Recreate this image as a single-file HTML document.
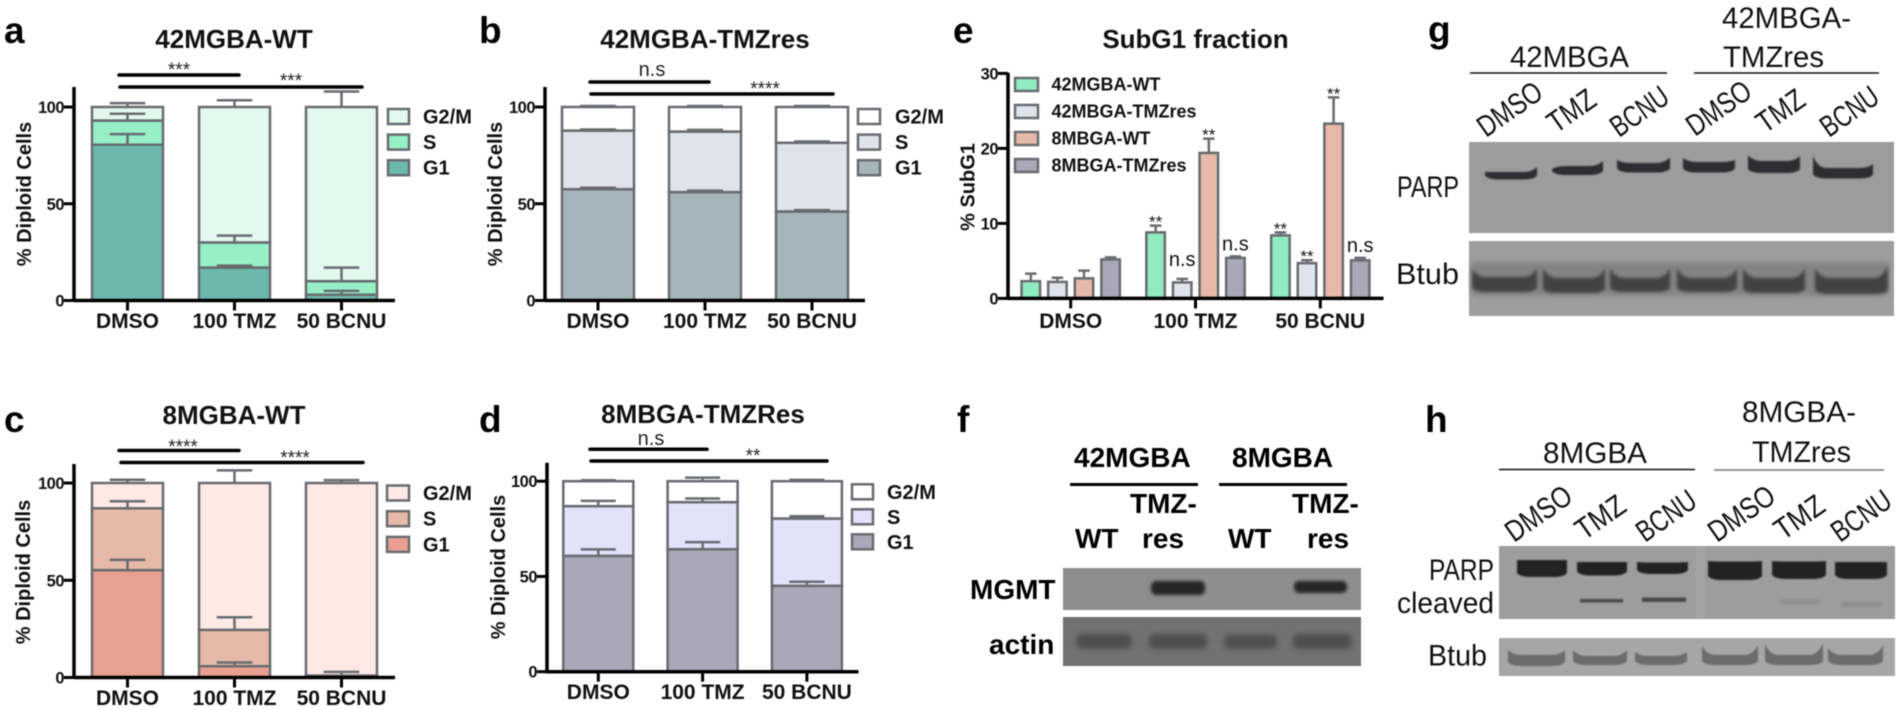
<!DOCTYPE html>
<html lang="en">
<head>
<meta charset="utf-8">
<title>Cell cycle and western blot figure</title>
<style>
html,body{margin:0;padding:0;background:#fff;width:1900px;height:710px;overflow:hidden}
svg{display:block;filter:blur(0.45px)}
text{font-family:"Liberation Sans",Arial,sans-serif;fill:#111}
.b{font-weight:700}
.letter{font-weight:700;font-size:37px;fill:#000}
.title{font-weight:700;font-size:26px;text-anchor:middle;fill:#111}
.sigbar{stroke:#000;stroke-width:3.5;stroke-linecap:round}
.star{font-size:19px;text-anchor:middle;fill:#222}
.ns{font-size:20px;text-anchor:middle;fill:#222}
.wb{font-size:30px;fill:#111}
.wbline{stroke:#111;stroke-width:1.6}
.fb{font-weight:700;font-size:28px;fill:#000}
</style>
</head>
<body>
<svg id="fig" xmlns="http://www.w3.org/2000/svg" width="1900" height="710" viewBox="0 0 1900 710">
<defs>
<filter id="blur05" x="-20%" y="-80%" width="140%" height="260%"><feGaussianBlur stdDeviation="0.9"/></filter>
<filter id="blur1" x="-20%" y="-60%" width="140%" height="220%"><feGaussianBlur stdDeviation="1.6"/></filter>
<filter id="blur2" x="-20%" y="-80%" width="140%" height="260%"><feGaussianBlur stdDeviation="3"/></filter>
</defs>

<!-- Panel letters -->
<text class="letter" x="4" y="43">a</text>
<text class="letter" x="479" y="43">b</text>
<text class="letter" x="4" y="432">c</text>
<text class="letter" x="479" y="432">d</text>
<text class="letter" x="953" y="43">e</text>
<text class="letter" x="957" y="432">f</text>
<text class="letter" x="1428" y="42">g</text>
<text class="letter" x="1425" y="432">h</text>

<!-- Chart titles -->
<text class="title" x="234" y="48">42MGBA-WT</text>
<text class="title" x="705" y="48">42MGBA-TMZres</text>
<text class="title" x="234" y="424">8MGBA-WT</text>
<text class="title" x="703" y="423">8MBGA-TMZRes</text>
<text class="title" x="1195.5" y="48">SubG1 fraction</text>

<!-- Significance brackets -->
<g>
<line class="sigbar" x1="119" y1="75" x2="239" y2="75"/><text class="star" x="179" y="76">***</text>
<line class="sigbar" x1="120" y1="87" x2="362" y2="87"/><text class="star" x="291" y="87">***</text>
</g>
<g>
<line class="sigbar" x1="590" y1="82" x2="709" y2="82"/><text class="ns" x="652" y="76">n.s</text>
<line class="sigbar" x1="591" y1="94" x2="833" y2="94"/><text class="star" x="765" y="95">****</text>
</g>
<g>
<line class="sigbar" x1="119" y1="450.5" x2="239" y2="450.5"/><text class="star" x="183" y="453">****</text>
<line class="sigbar" x1="121" y1="462.5" x2="363" y2="462.5"/><text class="star" x="295" y="464">****</text>
</g>
<g>
<line class="sigbar" x1="590" y1="449.3" x2="707" y2="449.3"/><text class="ns" x="651" y="445">n.s</text>
<line class="sigbar" x1="591" y1="461" x2="827" y2="461"/><text class="star" x="753" y="462">**</text>
</g>

<!-- Panel f -->
<g>
<text class="fb" x="1074" y="467">42MGBA</text>
<text class="fb" x="1232" y="467">8MGBA</text>
<line x1="1070" y1="484.5" x2="1198" y2="484.5" stroke="#000" stroke-width="3"/>
<line x1="1219" y1="484.5" x2="1347" y2="484.5" stroke="#000" stroke-width="3"/>
<text class="fb" x="1130" y="513">TMZ-</text>
<text class="fb" x="1292" y="513">TMZ-</text>
<text class="fb" x="1075" y="548">WT</text>
<text class="fb" x="1142" y="548">res</text>
<text class="fb" x="1228" y="548">WT</text>
<text class="fb" x="1307" y="548">res</text>
<text class="fb" x="970" y="599">MGMT</text>
<text class="fb" x="989" y="654">actin</text>
<rect x="1063" y="568" width="298" height="42" fill="#8e8e8e"/>
<g filter="url(#blur1)" fill="#262626">
<rect x="1151" y="581" width="54" height="14" rx="5"/>
<rect x="1294" y="581" width="53" height="12" rx="5"/>
</g>
<rect x="1063" y="617" width="298" height="49" fill="#727272"/>
<g filter="url(#blur2)" fill="#4e4e4e">
<rect x="1076" y="634" width="56" height="15" rx="6"/>
<rect x="1149" y="634" width="58" height="15" rx="6"/>
<rect x="1224" y="635" width="53" height="14" rx="6"/>
<rect x="1293" y="634" width="59" height="15" rx="6"/>
</g>
</g>

<!-- Panel g -->
<g>
<text class="wb" x="1510" y="67" textLength="119" lengthAdjust="spacingAndGlyphs">42MBGA</text>
<text class="wb" x="1722" y="28" textLength="129" lengthAdjust="spacingAndGlyphs">42MBGA-</text>
<text class="wb" x="1723" y="67" textLength="101" lengthAdjust="spacingAndGlyphs">TMZres</text>
<line class="wbline" x1="1470" y1="73" x2="1667" y2="73"/>
<line class="wbline" x1="1694" y1="73" x2="1879" y2="73"/>
<text class="wb" transform="translate(1486,138) rotate(-35)" textLength="72" lengthAdjust="spacingAndGlyphs">DMSO</text>
<text class="wb" transform="translate(1556,134) rotate(-35)" textLength="52" lengthAdjust="spacingAndGlyphs">TMZ</text>
<text class="wb" transform="translate(1619,138) rotate(-35)" textLength="64" lengthAdjust="spacingAndGlyphs">BCNU</text>
<text class="wb" transform="translate(1695,137) rotate(-35)" textLength="72" lengthAdjust="spacingAndGlyphs">DMSO</text>
<text class="wb" transform="translate(1765,134) rotate(-35)" textLength="52" lengthAdjust="spacingAndGlyphs">TMZ</text>
<text class="wb" transform="translate(1829,138) rotate(-35)" textLength="64" lengthAdjust="spacingAndGlyphs">BCNU</text>
<text class="wb" x="1397" y="197" textLength="62" lengthAdjust="spacingAndGlyphs">PARP</text>
<text class="wb" x="1396" y="284" textLength="63" lengthAdjust="spacingAndGlyphs">Btub</text>
<rect x="1469" y="142" width="425" height="91" fill="#9c9c9c"/>
<g id="bands-parp-g" filter="url(#blur05)" fill="#2e2f30"></g>
<rect x="1469" y="241" width="425" height="75" fill="#9e9e9e"/>
<rect x="1472" y="262" width="416" height="34" fill="#838383" filter="url(#blur2)"/>
<g id="bands-btub-g" filter="url(#blur1)" fill="#434343"></g>
</g>

<!-- Panel h -->
<g>
<text class="wb" x="1543" y="463" textLength="104" lengthAdjust="spacingAndGlyphs">8MGBA</text>
<text class="wb" x="1742" y="422" textLength="114" lengthAdjust="spacingAndGlyphs">8MGBA-</text>
<text class="wb" x="1752" y="462" textLength="99" lengthAdjust="spacingAndGlyphs">TMZres</text>
<line class="wbline" x1="1499" y1="469.5" x2="1695" y2="469.5"/>
<line x1="1714" y1="470" x2="1884" y2="470" stroke="#888" stroke-width="1.8"/>
<text class="wb" transform="translate(1514,543) rotate(-35)" textLength="74" lengthAdjust="spacingAndGlyphs">DMSO</text>
<text class="wb" transform="translate(1584,541) rotate(-35)" textLength="54" lengthAdjust="spacingAndGlyphs">TMZ</text>
<text class="wb" transform="translate(1645,543) rotate(-35)" textLength="66" lengthAdjust="spacingAndGlyphs">BCNU</text>
<text class="wb" transform="translate(1717,543) rotate(-35)" textLength="74" lengthAdjust="spacingAndGlyphs">DMSO</text>
<text class="wb" transform="translate(1783,541) rotate(-35)" textLength="54" lengthAdjust="spacingAndGlyphs">TMZ</text>
<text class="wb" transform="translate(1840,543) rotate(-35)" textLength="66" lengthAdjust="spacingAndGlyphs">BCNU</text>
<text class="wb" x="1429" y="580" textLength="65" lengthAdjust="spacingAndGlyphs">PARP</text>
<text class="wb" x="1397" y="613" textLength="97" lengthAdjust="spacingAndGlyphs">cleaved</text>
<text class="wb" x="1428" y="665.5" textLength="59" lengthAdjust="spacingAndGlyphs">Btub</text>
<rect x="1499" y="546" width="396" height="73" fill="#9d9d9d"/>
<rect x="1696" y="546" width="9" height="73" fill="#a4a4a4"/>
<g id="bands-parp-h" filter="url(#blur05)" fill="#242424"></g>
<g filter="url(#blur05)" fill="#4a4a4a">
<rect x="1580" y="599" width="43" height="3.5"/>
<rect x="1642" y="597.5" width="44" height="4.5"/>
</g>
<g filter="url(#blur1)" fill="#8c8c8c">
<rect x="1780" y="600" width="40" height="4"/>
<rect x="1842" y="602" width="40" height="5"/>
</g>
<rect x="1499" y="638" width="396" height="38" fill="#a6a6a6"/>
<g id="bands-btub-h" filter="url(#blur05)" fill="#6c6c6c"></g>
</g>
</svg>

<script>
// ---- Chart data ----
const categories = ['DMSO', '100 TMZ', '50 BCNU'];
const stackedTicks = [0, 50, 100];
const subG1Ticks = [0, 10, 20, 30];
const phaseNames = ['G2/M', 'S', 'G1'];

const panelAG1 = [80.5, 17, 3];
const panelAS = [12.5, 13, 7];
const panelAG2 = [7, 70, 90];
const panelAErrG1 = [5.5, 1, 2];
const panelAErrS = [3.5, 3.5, 7];
const panelAErrG2 = [2, 3.5, 8];

const panelBG1 = [57.5, 56, 46];
const panelBS = [30.3, 31.3, 35.5];
const panelBG2 = [12.2, 12.7, 18.5];
const panelBErrG1 = [0.8, 0.8, 0.7];
const panelBErrS = [0.6, 0.9, 0.7];
const panelBErrG2 = [0.5, 0.5, 0.5];

const panelCG1 = [55.2, 5.8, 1];
const panelCS = [31.8, 18.7, 0];
const panelCG2 = [13, 75.5, 99];
const panelCErrG1 = [5.3, 1.9, 1.9];
const panelCErrS = [3.6, 6.5, 0];
const panelCErrG2 = [1.7, 6.5, 1.5];

const panelDG1 = [60.8, 64.3, 45.1];
const panelDS = [26.1, 24.7, 35.3];
const panelDG2 = [13.1, 11, 19.6];
const panelDErrG1 = [3.4, 3.7, 2.1];
const panelDErrS = [2.8, 1.9, 1.2];
const panelDErrG2 = [0.5, 1.9, 0.7];

const subG1Names = ['42MGBA-WT', '42MBGA-TMZres', '8MBGA-WT', '8MBGA-TMZres'];
const subG1WT42 = [2.3, 8.8, 8.4];
const subG1Res42 = [2.2, 2.13, 4.7];
const subG1WT8 = [2.67, 19.4, 23.3];
const subG1Res8 = [5.2, 5.4, 5.07];
const subG1ErrWT42 = [1.0, 0.9, 0.4];
const subG1ErrRes42 = [0.55, 0.47, 0.4];
const subG1ErrWT8 = [1.03, 1.9, 3.5];
const subG1ErrRes8 = [0.27, 0.2, 0.33];
const subG1MarkWT42 = ['', '**', '**'];
const subG1MarkRes42 = ['', 'n.s', '**'];
const subG1MarkWT8 = ['', '**', '**'];
const subG1MarkRes8 = ['', 'n.s', 'n.s'];

// ---- Drawing ----
const NS = 'http://www.w3.org/2000/svg';
const fig = document.getElementById('fig');
const BAR_STROKE = '#686c70';

function make(tag, attrs, parent) {
  const node = document.createElementNS(NS, tag);
  for (const k in attrs) node.setAttribute(k, attrs[k]);
  parent.appendChild(node);
  return node;
}

function drawAxes(group, axis, yScale, xScale, ticks, cats) {
  const yLine = make('line', {x1: axis.x, y1: axis.top, x2: axis.x, y2: axis.y0 + 1.5, stroke: '#000', 'stroke-width': 3.5}, group);
  
  
  const xLine = make('line', {x1: axis.x, y1: axis.y0, x2: axis.right, y2: axis.y0, stroke: '#000', 'stroke-width': 3.5}, group);
  
  
  ticks.forEach(function (t) {
    const y = yScale(t);
    const mark = make('line', {x1: axis.x - 10, y1: y, x2: axis.x, y2: y, stroke: '#000', 'stroke-width': 3}, group);
    
    
    const label = make('text', {x: axis.x - 10, y: y + 6, 'text-anchor': 'end', 'font-size': 16.5, 'font-weight': 700, 'letter-spacing': -0.5}, group);
    label.textContent = t;
    
    
  });
  cats.forEach(function (c, i) {
    const x = xScale(i);
    const mark = make('line', {x1: x, y1: axis.y0, x2: x, y2: axis.y0 + 10, stroke: '#000', 'stroke-width': 3}, group);
    
    
    const label = make('text', {x: x, y: axis.labelY, 'text-anchor': 'middle', 'font-size': 21, 'font-weight': 700}, group);
    label.textContent = c;
    
    
  });
  const yTitle = make('text', {transform: 'translate(' + axis.titleX + ',' + axis.titleY + ') rotate(-90)', 'text-anchor': 'middle', 'font-size': 20, 'font-weight': 700}, group);
  yTitle.textContent = axis.title;
  
  
}

function drawError(group, x, yFrom, yTo, capHalf) {
  const stem = make('line', {x1: x, y1: yFrom, x2: x, y2: yTo, stroke: BAR_STROKE, 'stroke-width': 2.5}, group);
  
  
  const cap = make('line', {x1: x - capHalf, y1: yTo, x2: x + capHalf, y2: yTo, stroke: BAR_STROKE, 'stroke-width': 2.5}, group);
  
  
}

function drawLegend(group, lg, names, colors, fontSize) {
  names.forEach(function (name, i) {
    const y = lg.y + i * lg.step;
    const box = make('rect', {x: lg.x + 1, y: y + 1, width: lg.w - 2, height: lg.h - 2, fill: colors[i], stroke: BAR_STROKE, 'stroke-width': 2.5}, group);
    
    
    const label = make('text', {x: lg.textX, y: y + lg.h - 1.5, 'font-size': fontSize, 'font-weight': 700}, group);
    label.textContent = name;
    
    
  });
}

function drawStacked(panel, axis, lg, colors, g1, s, g2, errG1, errS, errG2) {
  const group = make('g', {}, fig);
  
  
  const yScale = function (v) { return axis.y0 - v * axis.unit; };
  const xScale = function (i) { return axis.cx0 + i * axis.pitch; };
  const layers = [[g1, errG1, colors[2], 'g1'], [s, errS, colors[1], 's'], [g2, errG2, colors[0], 'g2m']];
  categories.forEach(function (c, i) {
    let base = 0;
    const cx = xScale(i);
    layers.forEach(function (layer) {
      const val = layer[0][i];
      if (val > 0) {
        const seg = make('rect', {x: cx - axis.bw / 2, y: yScale(base + val), width: axis.bw, height: val * axis.unit, fill: layer[2], stroke: BAR_STROKE, 'stroke-width': 2.5}, group);
        
        
      }
      base += val;
    });
  });
  categories.forEach(function (c, i) {
    let base = 0;
    const cx = xScale(i);
    layers.forEach(function (layer) {
      base += layer[0][i];
      const err = layer[1][i];
      if (err > 0) drawError(group, cx, yScale(base), yScale(base + err), axis.bw / 4);
    });
  });
  drawAxes(group, axis, yScale, xScale, stackedTicks, categories);
  drawLegend(group, lg, phaseNames, colors, 20);
}

drawStacked('a',
  {x: 74, top: 87, y0: 300.5, right: 395, unit: 1.935, cx0: 127.5, pitch: 107, bw: 71, labelY: 328, title: '% Diploid Cells', titleX: 31, titleY: 194},
  {x: 387, y: 108, w: 23, h: 17, step: 25.6, textX: 423},
  ['#e3f9ee', '#97efc6', '#6bb8ad'],
  panelAG1, panelAS, panelAG2, panelAErrG1, panelAErrS, panelAErrG2);

drawStacked('b',
  {x: 545, top: 87, y0: 300.5, right: 865, unit: 1.935, cx0: 598, pitch: 107, bw: 72, labelY: 328, title: '% Diploid Cells', titleX: 502, titleY: 194},
  {x: 857, y: 108, w: 24, h: 17, step: 25.6, textX: 895},
  ['#ffffff', '#dfe4ec', '#a5b5bb'],
  panelBG1, panelBS, panelBG2, panelBErrG1, panelBErrS, panelBErrG2);

drawStacked('c',
  {x: 74, top: 464, y0: 677.5, right: 395, unit: 1.945, cx0: 127.5, pitch: 107, bw: 71, labelY: 705, title: '% Diploid Cells', titleX: 30, titleY: 572},
  {x: 386, y: 484.5, w: 24, h: 17, step: 25.7, textX: 423},
  ['#fee9e4', '#e6b9a8', '#e99f92'],
  panelCG1, panelCS, panelCG2, panelCErrG1, panelCErrS, panelCErrG2);

drawStacked('d',
  {x: 547, top: 462.7, y0: 671.7, right: 858.5, unit: 1.905, cx0: 598.3, pitch: 104.3, bw: 70, labelY: 699, title: '% Diploid Cells', titleX: 505, titleY: 567},
  {x: 851, y: 483.3, w: 23, h: 17, step: 25, textX: 887},
  ['#ffffff', '#e4e1fb', '#a9a7b8'],
  panelDG1, panelDS, panelDG2, panelDErrG1, panelDErrS, panelDErrG2);

(function drawSubG1() {
  const series = [subG1WT42, subG1Res42, subG1WT8, subG1Res8];
  const errors = [subG1ErrWT42, subG1ErrRes42, subG1ErrWT8, subG1ErrRes8];
  const marks = [subG1MarkWT42, subG1MarkRes42, subG1MarkWT8, subG1MarkRes8];
  const colors = ['#8fecc0', '#dfe4ec', '#e6b9a8', '#a9a7b8'];
  const axis = {x: 1008, top: 72.7, y0: 298.4, right: 1383.5, labelY: 328, title: '% SubG1', titleX: 974.5, titleY: 187};
  const unit = 7.5;
  const group = make('g', {}, fig);
  
  
  const yScale = function (v) { return axis.y0 - v * unit; };
  const xScale = function (i) { return 1070.7 + i * 124.8; };
  const bw = 18.5;
  const step = 26.6;
  categories.forEach(function (c, i) {
    series.forEach(function (vals, j) {
      const x = xScale(i) + (j - 1.5) * step;
      const bar = make('rect', {x: x - bw / 2, y: yScale(vals[i]), width: bw, height: vals[i] * unit, fill: colors[j], stroke: BAR_STROKE, 'stroke-width': 2.5}, group);
      
      
      const capY = yScale(vals[i] + errors[j][i]);
      drawError(group, x, yScale(vals[i]), capY, 5.75);
      const mark = marks[j][i];
      if (mark) {
        const isNs = mark === 'n.s';
        const note = make('text', {x: x, y: isNs ? capY - (j === 1 ? 13 : 6) : capY + 2, 'text-anchor': 'middle', 'font-size': isNs ? 20 : 17, fill: '#222'}, group);
        note.textContent = mark;
        
        
      }
    });
  });
  drawAxes(group, axis, yScale, xScale, subG1Ticks, categories);
  drawLegend(group, {x: 1014, y: 77, w: 25, h: 15, step: 27, textX: 1051.5}, subG1Names, colors, 18);
})();

// ---- Western blot bands (slightly U-shaped smiles) ----
function blotBand(groupId, x0, x1, yl, yr, y1, y2) {
  const d = 'M' + x0 + ' ' + yl + ' Q' + (x0 + 5) + ' ' + y1 + ' ' + (x0 + 14) + ' ' + y1 +
    ' L' + (x1 - 14) + ' ' + y1 + ' Q' + (x1 - 5) + ' ' + y1 + ' ' + x1 + ' ' + yr +
    ' L' + x1 + ' ' + (y2 - 4) + ' Q' + (x1 - 3) + ' ' + y2 + ' ' + (x1 - 14) + ' ' + y2 +
    ' L' + (x0 + 14) + ' ' + y2 + ' Q' + (x0 + 3) + ' ' + y2 + ' ' + x0 + ' ' + (y2 - 4) + ' Z';
  const band = make('path', {d: d}, document.getElementById(groupId));
  
  
}

blotBand('bands-parp-g', 1485, 1537, 172, 167, 172, 179.5);
blotBand('bands-parp-g', 1552, 1603, 169, 161, 166, 175);
blotBand('bands-parp-g', 1617, 1670, 160, 157, 163, 172.5);
blotBand('bands-parp-g', 1683, 1735, 158, 160, 162, 172.5);
blotBand('bands-parp-g', 1748, 1800, 155, 156, 161, 173);
blotBand('bands-parp-g', 1813, 1873, 156, 164, 168, 178.5);

blotBand('bands-btub-g', 1472, 1537, 268, 268, 277, 292);
blotBand('bands-btub-g', 1543, 1605, 268, 268, 278, 293);
blotBand('bands-btub-g', 1610, 1670, 268, 268, 278, 292);
blotBand('bands-btub-g', 1677, 1737, 268, 268, 278, 292);
blotBand('bands-btub-g', 1743, 1805, 268, 268, 278, 293);
blotBand('bands-btub-g', 1815, 1888, 268, 264, 278, 294);

blotBand('bands-parp-h', 1517, 1567, 560, 560, 560, 577);
blotBand('bands-parp-h', 1577, 1627, 562, 562, 562, 575.5);
blotBand('bands-parp-h', 1637, 1688, 562, 562, 562.5, 574);
blotBand('bands-parp-h', 1708, 1762, 561, 561, 561.5, 580);
blotBand('bands-parp-h', 1772, 1826, 561, 561, 561.5, 579);
blotBand('bands-parp-h', 1835, 1887, 562, 562, 562, 579);

blotBand('bands-btub-h', 1508, 1565, 650, 650, 655, 666);
blotBand('bands-btub-h', 1573, 1627, 650, 650, 656, 665);
blotBand('bands-btub-h', 1635, 1687, 652, 652, 656, 665);
blotBand('bands-btub-h', 1702, 1758, 646, 645, 655, 665);
blotBand('bands-btub-h', 1765, 1823, 644, 643, 655, 665);
blotBand('bands-btub-h', 1828, 1883, 648, 645, 655, 665);
</script>
</body>
</html>
